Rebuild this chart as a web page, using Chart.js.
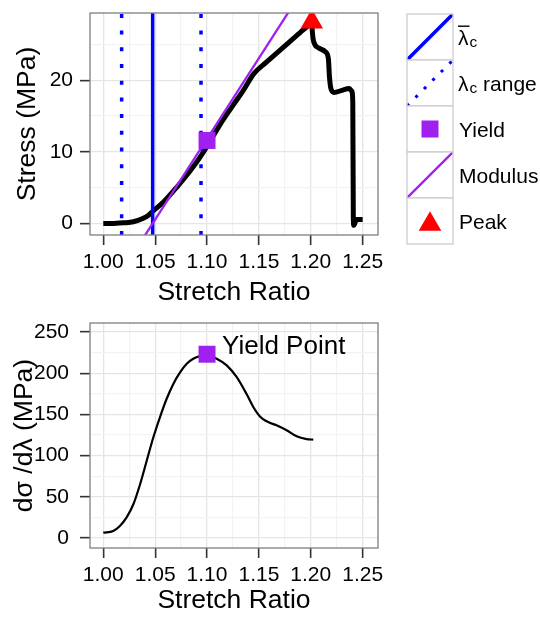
<!DOCTYPE html>
<html>
<head>
<meta charset="utf-8">
<title>Stress vs stretch ratio</title>
<script src="https://cdn.jsdelivr.net/npm/chart.js@4.4.1/dist/chart.umd.min.js"></script>
<style>
    html, body { margin: 0; padding: 0; background: #ffffff; }
    #wrap { position: relative; width: 540px; height: 617px; }
    #topBox { position: absolute; left: 0; top: 0; }
    #botBox { position: absolute; left: 0; top: 310px; }
    canvas { display: block; }
</style>
</head>
<body>
<div id="wrap">
    <div id="topBox"><canvas id="stressChart" width="540" height="310"></canvas></div>
    <div id="botBox"><canvas id="slopeChart" width="540" height="307"></canvas></div>
</div>
<script>
// Axis ticks (major labels + minor grid lines)
const stretchTicks = [1.00, 1.05, 1.10, 1.15, 1.20, 1.25];
const stretchMinor = [1.025, 1.075, 1.125, 1.175, 1.225];
const stretchRange = [0.9872, 1.2648];
const stressTicks = [0, 10, 20];
const stressMinor = [5, 15, 25];
const stressRange = [-1.6, 29.4];
const slopeTicks = [0, 50, 100, 150, 200, 250];
const slopeMinor = [25, 75, 125, 175, 225];
const slopeRange = [-12.1, 260.9];

// Stress-strain curve (top panel)
const stressX = [1.000, 1.010, 1.020, 1.029, 1.038, 1.044, 1.048, 1.058, 1.071, 1.084,
                 1.093, 1.101, 1.1125, 1.125, 1.135, 1.145, 1.157, 1.1735, 1.190, 1.199,
                 1.201, 1.2015, 1.203, 1.208, 1.214, 1.217, 1.218, 1.2195, 1.2225, 1.230,
                 1.237, 1.2395, 1.2405, 1.241, 1.2415, 1.244, 1.250];
const stressY = [0.0, 0.02, 0.1, 0.25, 0.7, 1.2, 1.75, 3.0, 5.1, 7.4,
                 9.2, 11.0, 13.8, 16.5, 18.6, 20.9, 22.5, 24.6, 26.7, 27.8,
                 28.0, 26.8, 25.3, 24.5, 24.0, 23.0, 20.5, 18.8, 18.3, 18.6,
                 18.85, 18.5, 17.0, 1.0, -0.25, 0.55, 0.55];

// Derivative curve (bottom panel)
const slopeX = [1.000, 1.0096, 1.016, 1.0225, 1.029, 1.0354, 1.0418, 1.0482, 1.0546, 1.0611,
                1.0675, 1.074, 1.0804, 1.0867, 1.0932, 1.0996, 1.1093, 1.119, 1.1285, 1.138,
                1.1446, 1.151, 1.1575, 1.167, 1.1767, 1.1864, 1.196, 1.2024];
const slopeY = [6.5, 8.5, 14.5, 25, 41, 65, 93.5, 122, 146.5, 169,
                187, 201, 211.5, 217.5, 220.9, 222, 217.6, 209.5, 195.4, 175,
                159, 147.6, 141.6, 136.7, 130.7, 123.4, 120.1, 119.3];

// Markers and reference lines
const lambdaBar = [1.0476];
const lambdaRange = [1.0177, 1.0942];
const yieldX = [1.10];
const yieldStress = [11.6];
const yieldSlope = [223];
const peakX = [1.201];
const peakStress = [28.15];
const modulusX = [1.036, 1.182];
const modulusY = [-2.6, 30.3];
const legendLabels = ['λ', 'λ range', 'Yield', 'Modulus', 'Peak'];

const BLUE = '#0000ff';
const PURPLE = '#a020f0';
const RED = '#ff0000';
const FONT = "'Liberation Sans', Arial, sans-serif";

Chart.defaults.font.family = FONT;
Chart.defaults.color = '#000000';

function points(xs, ys) {
    return xs.map((x, i) => ({ x: x, y: ys[i] }));
}

function gridTicks(major, minor) {
    const all = major.map(v => ({ value: v, minor: false }))
        .concat(minor.map(v => ({ value: v, minor: true })));
    return all.sort((a, b) => a.value - b.value);
}

function isMinor(c) {
    return c.tick && c.tick.minor;
}

function gridOpts() {
    return {
        color: c => isMinor(c) ? '#f3f3f3' : '#e5e5e5',
        lineWidth: 1.3,
        tickColor: c => isMinor(c) ? 'rgba(0,0,0,0)' : '#333333',
        tickWidth: 1.6,
        tickLength: 10
    };
}

function stretchAxis(height, bottomPad) {
    return {
        type: 'linear',
        min: stretchRange[0],
        max: stretchRange[1],
        afterBuildTicks: s => { s.ticks = gridTicks(stretchTicks, stretchMinor); },
        afterFit: s => {
            s.height = height;
            s.paddingLeft = 0;
            s.paddingRight = 0;
        },
        ticks: {
            autoSkip: false,
            maxRotation: 0,
            padding: 5,
            font: { size: 21 },
            callback: (v, i, t) => t[i].minor ? '' : v.toFixed(2)
        },
        grid: gridOpts(),
        border: { display: false },
        title: { display: true, text: 'Stretch Ratio', font: { size: 26.5 }, padding: { top: 0, bottom: bottomPad } }
    };
}

function valueAxis(range, major, minor, label, tickPad, titlePad) {
    return {
        type: 'linear',
        min: range[0],
        max: range[1],
        afterBuildTicks: s => { s.ticks = gridTicks(major, minor); },
        afterFit: s => {
            s.width = 90;
            s.paddingTop = 0;
            s.paddingBottom = 0;
        },
        ticks: {
            autoSkip: false,
            padding: tickPad,
            font: { size: 21 },
            callback: (v, i, t) => t[i].minor ? '' : String(v)
        },
        grid: gridOpts(),
        border: { display: false },
        title: { display: true, text: label, font: { size: 26.5 }, padding: { top: titlePad, bottom: 0 } }
    };
}

// ggplot-like panel border drawn over the data
const panelBorder = {
    id: 'panelBorder',
    afterDatasetsDraw(chart) {
        const a = chart.chartArea;
        const ctx = chart.ctx;
        ctx.save();
        ctx.strokeStyle = '#7f7f7f';
        ctx.lineWidth = 1.3;
        ctx.strokeRect(a.left, a.top, a.right - a.left, a.bottom - a.top);
        ctx.restore();
    }
};

// lambda with subscript c (and optional bar on top)
function drawLambda(ctx, x, base, withBar) {
    ctx.font = '21px ' + FONT;
    ctx.fillText('λ', x, base);
    const w = ctx.measureText('λ').width;
    if (withBar) {
        ctx.fillRect(x, base - 19.5, w + 1, 1.4);
    }
    ctx.font = '15.5px ' + FONT;
    ctx.fillText('c', x + w + 1, base + 2);
    return x + w + 1 + ctx.measureText('c').width;
}

// Legend to the right of the top panel
const stressLegend = {
    id: 'stressLegend',
    afterDraw(chart) {
        const ctx = chart.ctx;
        const size = 46;
        const left = chart.chartArea.right + 29;
        const top = chart.chartArea.top + 1;
        legendLabels.forEach((label, i) => {
            const y0 = top + i * size;
            const cx = left + size / 2;
            const cy = y0 + size / 2;
            ctx.save();
            ctx.fillStyle = '#ffffff';
            ctx.fillRect(left, y0, size, size);
            ctx.beginPath();
            ctx.rect(left, y0, size, size);
            ctx.clip();
            if (i === 0 || i === 1 || i === 3) {
                ctx.strokeStyle = i === 3 ? PURPLE : BLUE;
                ctx.lineWidth = i === 3 ? 2.3 : (i === 0 ? 3.5 : 3);
                if (i === 1) ctx.setLineDash([3, 9]);
                ctx.beginPath();
                ctx.moveTo(left, y0 + size);
                ctx.lineTo(left + size, y0);
                ctx.stroke();
            } else if (i === 2) {
                ctx.fillStyle = PURPLE;
                ctx.fillRect(cx - 8.5, cy - 8.5, 17, 17);
            } else {
                ctx.fillStyle = RED;
                ctx.beginPath();
                ctx.moveTo(cx, cy - 9.8);
                ctx.lineTo(cx + 11.3, cy + 9.8);
                ctx.lineTo(cx - 11.3, cy + 9.8);
                ctx.closePath();
                ctx.fill();
            }
            ctx.restore();
            ctx.save();
            ctx.strokeStyle = '#cccccc';
            ctx.lineWidth = 1.3;
            ctx.strokeRect(left, y0, size, size);
            ctx.fillStyle = '#000000';
            ctx.textBaseline = 'alphabetic';
            const tx = left + size + 5;
            const base = cy + 8;
            if (i === 0) {
                drawLambda(ctx, tx, base, true);
            } else if (i === 1) {
                const end = drawLambda(ctx, tx, base, false);
                ctx.font = '21px ' + FONT;
                ctx.fillText(' range', end, base);
            } else {
                ctx.font = '21px ' + FONT;
                ctx.fillText(label, tx + 1, base);
            }
            ctx.restore();
        });
    }
};

// Text label next to the yield point (bottom panel)
const yieldLabel = {
    id: 'yieldLabel',
    afterDatasetsDraw(chart) {
        const ctx = chart.ctx;
        const x = chart.scales.x.getPixelForValue(yieldX[0]) + 15;
        const y = chart.scales.y.getPixelForValue(yieldSlope[0]);
        ctx.save();
        ctx.font = '26px ' + FONT;
        ctx.fillStyle = '#000000';
        ctx.textBaseline = 'alphabetic';
        ctx.fillText('Yield Point', x, y);
        ctx.restore();
    }
};

function vline(x, dash, order) {
    return {
        data: [{ x: x, y: stressRange[0] }, { x: x, y: stressRange[1] }],
        borderColor: BLUE,
        borderWidth: 3.5,
        borderDash: dash,
        pointRadius: 0,
        clip: 0,
        order: order
    };
}

new Chart(document.getElementById('stressChart'), {
    type: 'line',
    data: {
        datasets: [
            {
                data: points(peakX, peakStress),
                showLine: false,
                pointStyle: 'triangle',
                pointRadius: 13,
                pointBackgroundColor: RED,
                pointBorderWidth: 0,
                clip: 0,
                order: 0
            },
            {
                data: points(yieldX, yieldStress),
                showLine: false,
                pointStyle: 'rect',
                pointRadius: 12,
                pointBackgroundColor: PURPLE,
                pointBorderWidth: 0,
                clip: 0,
                order: 1
            },
            {
                data: points(modulusX, modulusY),
                borderColor: PURPLE,
                borderWidth: 2.3,
                pointRadius: 0,
                clip: 0,
                order: 2
            },
            vline(lambdaBar[0], [], 3),
            vline(lambdaRange[0], [4, 12.7], 3),
            vline(lambdaRange[1], [4, 12.7], 3),
            {
                data: points(stressX, stressY),
                borderColor: '#000000',
                borderWidth: 5,
                borderJoinStyle: 'round',
                pointRadius: 0,
                cubicInterpolationMode: 'monotone',
                clip: 0,
                order: 4
            }
        ]
    },
    options: {
        responsive: false,
        animation: false,
        layout: { padding: { top: 10, right: 162, bottom: 0, left: 0 } },
        scales: {
            x: stretchAxis(75, 1),
            y: valueAxis(stressRange, stressTicks, stressMinor, 'Stress (MPa)', 7, 12)
        },
        plugins: {
            legend: { display: false },
            tooltip: { enabled: false }
        }
    },
    plugins: [panelBorder, stressLegend]
});

new Chart(document.getElementById('slopeChart'), {
    type: 'line',
    data: {
        datasets: [
            {
                data: points(yieldX, yieldSlope),
                showLine: false,
                pointStyle: 'rect',
                pointRadius: 12,
                pointBackgroundColor: PURPLE,
                pointBorderWidth: 0,
                clip: 0,
                order: 0
            },
            {
                data: points(slopeX, slopeY),
                borderColor: '#000000',
                borderWidth: 2.2,
                pointRadius: 0,
                cubicInterpolationMode: 'monotone',
                clip: 0,
                order: 1
            }
        ]
    },
    options: {
        responsive: false,
        animation: false,
        layout: { padding: { top: 13, right: 162, bottom: 0, left: 0 } },
        scales: {
            x: stretchAxis(69, 0),
            y: valueAxis(slopeRange, slopeTicks, slopeMinor, 'dσ /dλ (MPa)', 11, 9)
        },
        plugins: {
            legend: { display: false },
            tooltip: { enabled: false }
        }
    },
    plugins: [panelBorder, yieldLabel]
});
</script>
</body>
</html>
